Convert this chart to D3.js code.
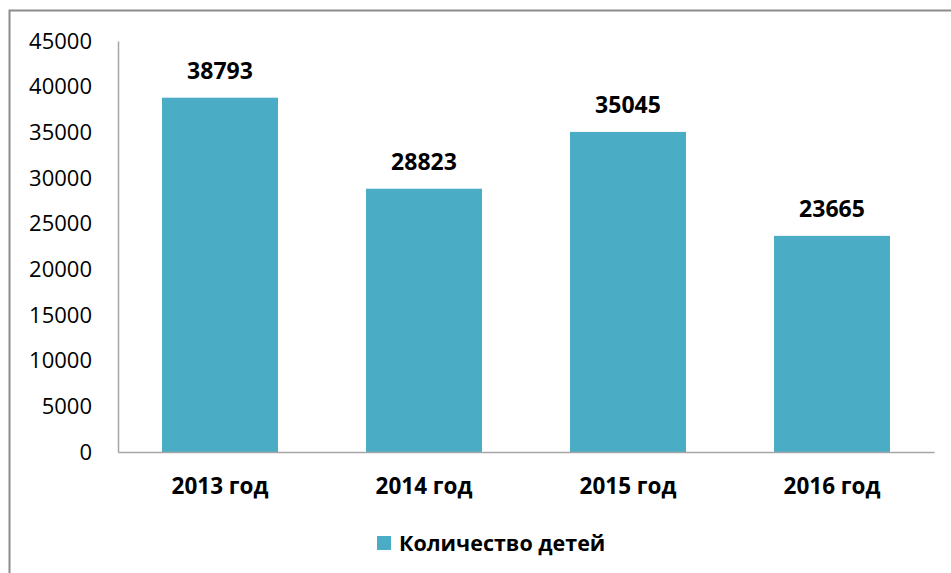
<!DOCTYPE html>
<html><head><meta charset="utf-8">
<script src="https://cdn.jsdelivr.net/npm/d3@7"></script>
<style>body{margin:0;background:#fff;} svg{display:block;font-family:"Open Sans",sans-serif;}</style>
</head><body>
<svg id="c" width="951" height="573"></svg>
<script>
const categories = ["2013 год", "2014 год", "2015 год", "2016 год"];
const values = [38793, 28823, 35045, 23665];
const seriesName = "Количество детей";
const yTicks = [0, 5000, 10000, 15000, 20000, 25000, 30000, 35000, 40000, 45000];

(function(){
const svg = d3.select("#c");
const color = "#4BACC6";
svg.append("rect").attr("x", 9.5).attr("y", 10.5).attr("width", 1000).attr("height", 1000)
  .attr("fill", "none").attr("stroke", "#8c8c8c").attr("stroke-width", 2);

const mLeft = 118, mRight = 934, mTop = 41, mBottom = 452;
const x = d3.scaleBand().domain(categories).range([mLeft, mRight]).paddingInner(88/204).paddingOuter(44/204);
const y = d3.scaleLinear().domain([0, 45000]).range([mBottom, mTop]);

const yAxis = d3.axisLeft(y).tickValues(yTicks).tickSize(0).tickPadding(26).tickFormat(d3.format("d"));
const gy = svg.append("g").attr("transform", `translate(${mLeft},0)`).call(yAxis);
gy.select(".domain").attr("stroke", "#a6a6a6").attr("stroke-width", 1.5);
gy.selectAll("text").attr("font-size", 22).attr("fill", "#000").attr("font-family", "Open Sans");

svg.selectAll("rect.bar").data(values).enter().append("rect").attr("class", "bar")
  .attr("x", (d, i) => x(categories[i])).attr("width", x.bandwidth())
  .attr("y", d => y(d)).attr("height", d => y(0) - y(d)).attr("fill", color);

const xAxis = d3.axisBottom(x).tickSize(0).tickPadding(26);
const gx = svg.append("g").attr("transform", `translate(0,${mBottom})`).call(xAxis);
gx.select(".domain").attr("stroke", "#a6a6a6").attr("stroke-width", 1.5);
gx.selectAll("text").attr("font-size", 22.5).attr("font-weight", "bold").attr("fill", "#000").attr("font-family", "Open Sans");

svg.selectAll("text.lbl").data(values).enter().append("text").attr("class", "lbl")
  .attr("x", (d, i) => x(categories[i]) + x.bandwidth() / 2).attr("y", d => y(d) - 19)
  .attr("text-anchor", "middle").attr("font-size", 23).attr("font-weight", "bold").attr("fill", "#000")
  .text(d => d);

const lg = svg.append("g").attr("transform", "translate(377,536)");
lg.append("rect").attr("width", 14).attr("height", 14).attr("fill", color);
lg.append("text").attr("x", 22).attr("y", 7).attr("dy", "0.35em").attr("font-size", 21.5).attr("font-weight", "bold")
  .attr("fill", "#000").text(seriesName);
})();
</script>
</body></html>
